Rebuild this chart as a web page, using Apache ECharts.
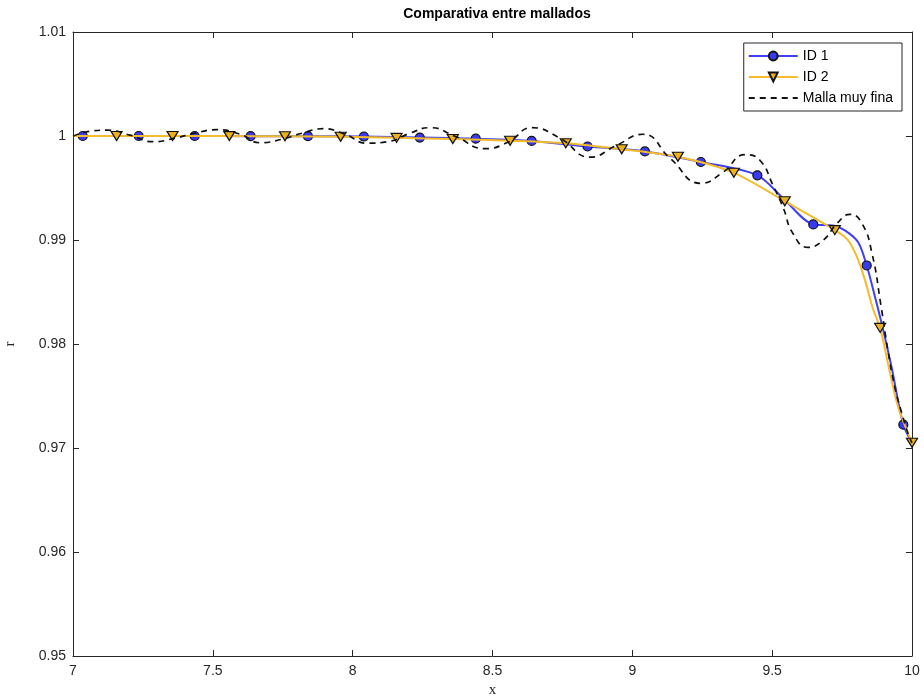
<!DOCTYPE html>
<html>
<head>
<meta charset="utf-8">
<script src="https://cdn.jsdelivr.net/npm/echarts@6/dist/echarts.min.js"></script>
<style>html,body{margin:0;padding:0;background:#fff}#c{width:924px;height:699px}</style>
</head>
<body>
<div id="c"></div>
<script>
// ---- data ----
const titleText = 'Comparativa entre mallados';
const seriesNames = ['ID 1', 'ID 2', 'Malla muy fina'];
const xTicks = [7, 7.5, 8, 8.5, 9, 9.5, 10];
const yTicks = [0.95, 0.96, 0.97, 0.98, 0.99, 1.00, 1.01];

// ID 1: line points, with marker flag (1 = marker drawn)
const id1X = [7.000, 7.035, 7.235, 7.435, 7.635, 7.840, 8.040, 8.240, 8.440, 8.640, 8.840, 9.045, 9.245, 9.447, 9.545, 9.647, 9.717, 9.760, 9.807, 9.838, 9.868, 9.896, 9.927, 9.969, 10.000];
const id1Y = [1.00000, 1.00000, 1.00000, 1.00000, 0.99998, 0.99998, 0.99995, 0.99985, 0.99974, 0.99953, 0.99899, 0.99852, 0.99750, 0.99622, 0.99385, 0.99150, 0.99140, 0.99093, 0.98980, 0.98755, 0.98450, 0.98148, 0.97776, 0.97224, 0.97052];
const id1M = [0, 1, 1, 1, 1, 1, 1, 1, 1, 1, 1, 1, 1, 1, 0, 1, 0, 0, 0, 1, 0, 0, 0, 1, 0];

// ID 2
const id2X = [7.000, 7.156, 7.356, 7.559, 7.758, 7.957, 8.157, 8.358, 8.563, 8.762, 8.962, 9.163, 9.363, 9.545, 9.724, 9.770, 9.800, 9.830, 9.860, 9.886, 9.921, 9.951, 10.000];
const id2Y = [1.00000, 1.00000, 1.00000, 0.99999, 0.99997, 0.99992, 0.99982, 0.99971, 0.99955, 0.99930, 0.99872, 0.99800, 0.99646, 0.99373, 0.99095, 0.99002, 0.98857, 0.98631, 0.98342, 0.98155, 0.97726, 0.97390, 0.97050];
const id2M = [0, 1, 1, 1, 1, 1, 1, 1, 1, 1, 1, 1, 1, 1, 1, 0, 0, 0, 0, 1, 0, 0, 1];

// Malla muy fina (dashed reference)
const fineX = [7.000, 7.061, 7.125, 7.204, 7.286, 7.365, 7.436, 7.515, 7.597, 7.669, 7.747, 7.819, 7.894, 7.972, 8.051, 8.133, 8.205, 8.276, 8.366, 8.473, 8.555, 8.641, 8.741, 8.849, 8.938, 9.038, 9.135, 9.245, 9.324, 9.403, 9.456, 9.503, 9.539, 9.574, 9.628, 9.682, 9.732, 9.778, 9.821, 9.857, 9.889, 9.914, 9.939, 9.964, 9.986, 10.000];
const fineY = [0.99998, 1.00046, 1.00056, 1.00008, 0.99945, 0.99979, 1.00027, 1.00061, 1.00017, 0.99935, 0.99969, 1.00027, 1.00070, 1.00017, 0.99931, 0.99950, 1.00027, 1.00080, 0.99998, 0.99878, 0.99940, 1.00080, 0.99979, 0.99796, 0.99902, 1.00017, 0.99786, 0.99545, 0.99651, 0.99820, 0.99767, 0.99526, 0.99314, 0.99064, 0.98929, 0.98996, 0.99160, 0.99247, 0.99160, 0.98871, 0.98370, 0.97936, 0.97580, 0.97330, 0.97137, 0.97050];

// ---- build chart ----
const txt = '#262626';
const sansFont = '"Liberation Sans", Arial, Helvetica, sans-serif';
const serifFont = '"Liberation Serif", "Times New Roman", serif';

function build(xs, ys, ms) {
  return xs.map((x, i) => ms[i] ? [x, ys[i]] : { value: [x, ys[i]], symbol: 'none' });
}

const chart = echarts.init(document.getElementById('c'), null, { renderer: 'canvas' });
const axisCommon = {
  axisLine: { show: true, onZero: false, lineStyle: { color: txt, width: 1 } },
  axisTick: { show: true, inside: true, length: 6, lineStyle: { color: txt, width: 1 } },
  splitLine: { show: false }
};

chart.setOption({
  animation: false,
  backgroundColor: '#fff',
  title: {
    text: titleText, left: 492, top: 2, textAlign: 'center',
    textStyle: { fontFamily: sansFont, fontWeight: 'bold', fontSize: 14, color: '#000' }
  },
  grid: { left: 73, right: 12, top: 32, bottom: 43, containLabel: false, outerBoundsMode: 'none' },
  legend: {
    orient: 'vertical', right: 22, top: 43,
    data: [
      { name: seriesNames[0] },
      { name: seriesNames[1] },
      { name: seriesNames[2], itemStyle: { color: 'rgba(0,0,0,0)', borderWidth: 0, opacity: 0 } }
    ],
    itemWidth: 49, itemHeight: 11, itemGap: 7,
    padding: [6, 9, 6, 4],
    borderColor: '#262626', borderWidth: 1, backgroundColor: '#fff',
    textStyle: { fontFamily: sansFont, fontSize: 14, color: '#000' }
  },
  xAxis: [
    Object.assign({
      type: 'value', min: 7, max: 10, interval: 0.5, position: 'bottom',
      name: 'x', nameLocation: 'middle', nameGap: 24,
      nameTextStyle: { fontFamily: serifFont, fontSize: 15, color: txt },
      axisLabel: { fontFamily: sansFont, fontSize: 14, color: txt, margin: 8,
        formatter: v => String(v) }
    }, axisCommon),
    Object.assign({
      type: 'value', min: 7, max: 10, interval: 0.5, position: 'top',
      axisLabel: { show: false }
    }, axisCommon)
  ],
  yAxis: [
    Object.assign({
      type: 'value', min: 0.95, max: 1.01, interval: 0.01, position: 'left',
      name: 'r', nameLocation: 'middle', nameGap: 55,
      nameTextStyle: { fontFamily: serifFont, fontSize: 15, color: txt },
      axisLabel: { fontFamily: sansFont, fontSize: 14, color: txt, margin: 7,
        formatter: v => Math.abs(v - 1) < 1e-9 ? '1' : v.toFixed(2) }
    }, axisCommon),
    Object.assign({
      type: 'value', min: 0.95, max: 1.01, interval: 0.01, position: 'right',
      axisLabel: { show: false }
    }, axisCommon)
  ],
  series: [
    {
      name: seriesNames[0], type: 'line', xAxisIndex: 0, yAxisIndex: 0,
      data: build(id1X, id1Y, id1M),
      smooth: 0.3, showAllSymbol: true,
      symbol: 'circle', symbolSize: 9,
      lineStyle: { color: '#3F3FF5', width: 2 },
      itemStyle: { color: '#3A3AEF', borderColor: '#111', borderWidth: 1.2 },
      z: 2
    },
    {
      name: seriesNames[1], type: 'line', xAxisIndex: 0, yAxisIndex: 0,
      data: build(id2X, id2Y, id2M),
      smooth: 0.3, showAllSymbol: true,
      symbol: 'triangle', symbolRotate: 180, symbolSize: [11, 9],
      lineStyle: { color: '#F4BC2A', width: 2 },
      itemStyle: { color: '#EDB120', borderColor: '#111', borderWidth: 1.2 },
      z: 3
    },
    {
      name: seriesNames[2], type: 'line', xAxisIndex: 0, yAxisIndex: 0,
      data: fineX.map((x, i) => [x, fineY[i]]),
      smooth: 0.5, symbol: 'none',
      lineStyle: { color: '#111', width: 1.7, type: [6, 5] },
      itemStyle: { color: '#111' },
      z: 4
    }
  ]
});
</script>
</body>
</html>
